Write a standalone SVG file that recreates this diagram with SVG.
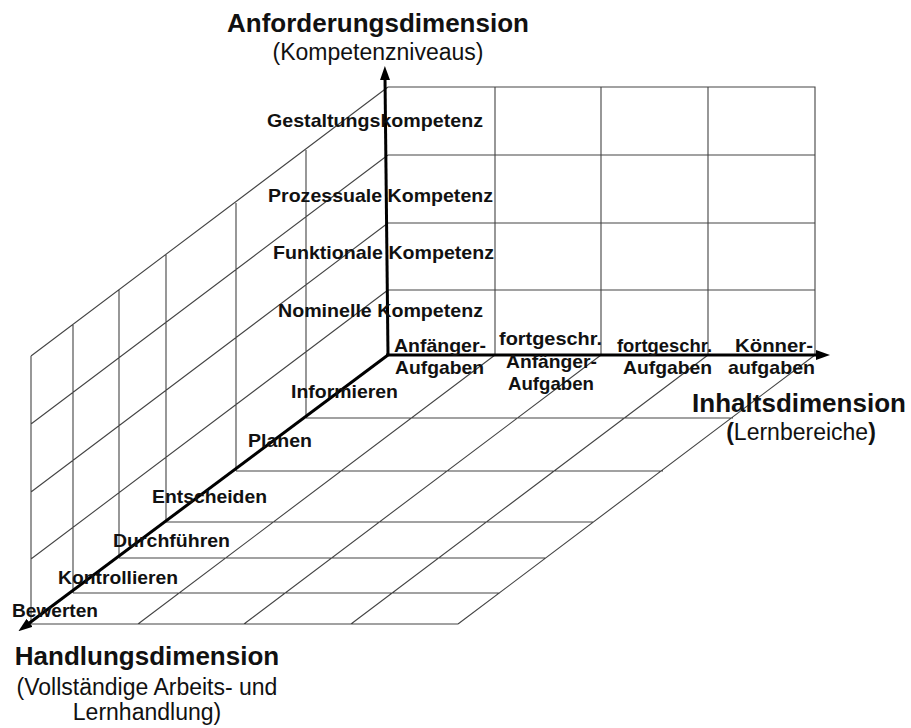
<svg xmlns="http://www.w3.org/2000/svg" width="911" height="728" viewBox="0 0 911 728">
<style>
.g{stroke:#444;stroke-width:1.1;fill:none}
.ax{stroke:#000;stroke-width:3;fill:none}
text{font-family:"Liberation Sans",Arial,sans-serif;fill:#111}
.lb{font-size:19px;font-weight:bold}
.ti{font-size:26px;font-weight:bold}
.st{font-size:23px}
</style>
<defs>
<marker id="arr" viewBox="0 0 14 10" refX="2" refY="5" markerWidth="14" markerHeight="10" markerUnits="userSpaceOnUse" orient="auto">
<path d="M0,0 L14,5 L0,10 Z" fill="#000"/>
</marker>
</defs>
<rect width="911" height="728" fill="#fff"/>
<g id="back-wall">
<path class="g" d="M388,87 H815 V355 M388,155 H815 M388,223 H815 M388,290 H815 M495,87 V355 M601,87 V355 M708,87 V355"/>
</g>
<g id="left-wall">
<path class="g" d="M388,87 L31,356 M388,155 L31,424 M388,223 L31,492 M388,290 L31,559 M306,150 V418 M236,203 V471 M166,254 V522 M119,290 V558 M73,325 V593 M31,356 V624"/>
</g>
<g id="floor">
<path class="g" d="M306,418 H733 M236,471 H663 M166,522 H593 M119,558 H546 M73,593 H500 M31,624 H458 M495,355 L138,624 M601,355 L244,624 M708,355 L351,624 M815,355 L458,624"/>
</g>
<g id="connectors">
<line class="ax" x1="388" y1="355" x2="385" y2="78" marker-end="url(#arr)"/>
<line class="ax" x1="386" y1="355" x2="818" y2="355" marker-end="url(#arr)"/>
<line class="ax" x1="388" y1="355" x2="28" y2="624" marker-end="url(#arr)"/>
</g>
<g id="anforderung-title">
<text class="ti" x="378" y="32" text-anchor="middle">Anforderungsdimension</text>
<text class="st" x="378" y="60" text-anchor="middle">(Kompetenzniveaus)</text>
</g>
<g id="anforderung-levels">
<text class="lb" x="267" y="127" textLength="216" lengthAdjust="spacingAndGlyphs">Gestaltungskompetenz</text>
<text class="lb" x="268" y="202" textLength="225" lengthAdjust="spacingAndGlyphs">Prozessuale Kompetenz</text>
<text class="lb" x="273" y="259" textLength="221" lengthAdjust="spacingAndGlyphs">Funktionale Kompetenz</text>
<text class="lb" x="278" y="317" textLength="205" lengthAdjust="spacingAndGlyphs">Nominelle Kompetenz</text>
</g>
<g id="inhalt-levels">
<text class="lb" x="394" y="352" textLength="92" lengthAdjust="spacingAndGlyphs">Anfänger-</text>
<text class="lb" x="395" y="374" textLength="89" lengthAdjust="spacingAndGlyphs">Aufgaben</text>
<text class="lb" x="499" y="345" textLength="103" lengthAdjust="spacingAndGlyphs">fortgeschr.</text>
<text class="lb" x="506" y="368" textLength="91" lengthAdjust="spacingAndGlyphs">Anfänger-</text>
<text class="lb" x="508" y="390" textLength="86" lengthAdjust="spacingAndGlyphs">Aufgaben</text>
<text class="lb" x="617" y="352" textLength="95" lengthAdjust="spacingAndGlyphs">fortgeschr.</text>
<text class="lb" x="623" y="374" textLength="89" lengthAdjust="spacingAndGlyphs">Aufgaben</text>
<text class="lb" x="735" y="352" textLength="78" lengthAdjust="spacingAndGlyphs">Könner-</text>
<text class="lb" x="728" y="374" textLength="87" lengthAdjust="spacingAndGlyphs">aufgaben</text>
</g>
<g id="inhalt-title">
<text class="ti" x="799" y="412" text-anchor="middle">Inhaltsdimension</text>
<text class="st" x="801" y="440" text-anchor="middle"><tspan font-weight="bold">(</tspan>Lernbereiche<tspan font-weight="bold">)</tspan></text>
</g>
<g id="handlung-levels">
<text class="lb" x="291" y="398" textLength="107" lengthAdjust="spacingAndGlyphs">Informieren</text>
<text class="lb" x="248" y="447" textLength="64" lengthAdjust="spacingAndGlyphs">Planen</text>
<text class="lb" x="152" y="503" textLength="115" lengthAdjust="spacingAndGlyphs">Entscheiden</text>
<text class="lb" x="113" y="547" textLength="117" lengthAdjust="spacingAndGlyphs">Durchführen</text>
<text class="lb" x="58" y="584" textLength="120" lengthAdjust="spacingAndGlyphs">Kontrollieren</text>
<text class="lb" x="12" y="617" textLength="86" lengthAdjust="spacingAndGlyphs">Bewerten</text>
</g>
<g id="handlung-title">
<text class="ti" x="147" y="665" text-anchor="middle">Handlungsdimension</text>
<text class="st" x="147" y="695" text-anchor="middle">(Vollständige Arbeits- und</text>
<text class="st" x="147" y="720" text-anchor="middle">Lernhandlung)</text>
</g>
</svg>
